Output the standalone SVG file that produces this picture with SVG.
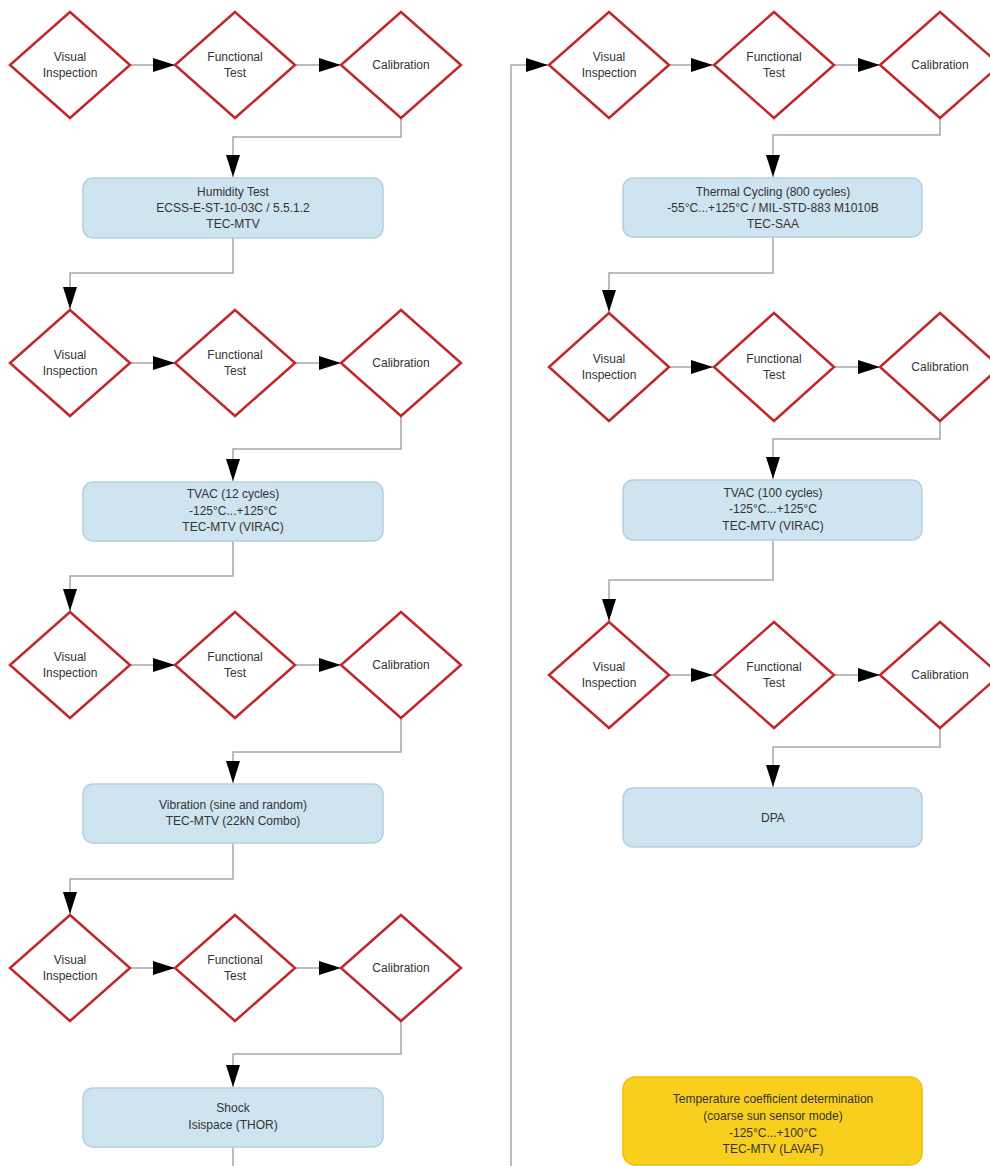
<svg xmlns="http://www.w3.org/2000/svg" width="990" height="1166" viewBox="0 0 990 1166">
<style>
  .dia { fill: #ffffff; stroke: #c1272d; stroke-width: 2.5; stroke-linejoin: miter; }
  .box { fill: #cfe4f1; stroke: #b3cfe1; stroke-width: 1.5; }
  .ybox { fill: #f9cf1e; stroke: #efc000; stroke-width: 1.5; }
  .t { font-family: "Liberation Sans", Arial, sans-serif; font-size: 12px; fill: #333333; text-anchor: middle; }
  .con { fill: none; stroke: #a6a6a6; stroke-width: 1.5; }
</style>
<defs>
  <marker id="arr" markerWidth="22" markerHeight="14" refX="22" refY="7" orient="auto" markerUnits="userSpaceOnUse">
    <path d="M0,0 L22,7 L0,14 z" fill="#000000"/>
  </marker>
</defs>
<rect width="990" height="1166" fill="#ffffff"/>

<g id="connectors">
  <!-- left column -->
  <path class="con" d="M130,65 H175" marker-end="url(#arr)"/>
  <path class="con" d="M295,65 H341" marker-end="url(#arr)"/>
  <path class="con" d="M401,118 V137 H233 V177" marker-end="url(#arr)"/>
  <path class="con" d="M233,238 V273 H70 V309" marker-end="url(#arr)"/>
  <path class="con" d="M130,363 H175" marker-end="url(#arr)"/>
  <path class="con" d="M295,363 H341" marker-end="url(#arr)"/>
  <path class="con" d="M401,416 V449 H233 V481" marker-end="url(#arr)"/>
  <path class="con" d="M233,541 V576 H70 V611" marker-end="url(#arr)"/>
  <path class="con" d="M130,665 H175" marker-end="url(#arr)"/>
  <path class="con" d="M295,665 H341" marker-end="url(#arr)"/>
  <path class="con" d="M401,718 V752 H233 V783" marker-end="url(#arr)"/>
  <path class="con" d="M233,843 V879 H70 V914" marker-end="url(#arr)"/>
  <path class="con" d="M130,968 H175" marker-end="url(#arr)"/>
  <path class="con" d="M295,968 H341" marker-end="url(#arr)"/>
  <path class="con" d="M401,1021 V1054 H233 V1087" marker-end="url(#arr)"/>
  <path class="con" d="M233,1147 V1166"/>
  <!-- right column -->
  <path class="con" d="M511,1166 V65 H548" marker-end="url(#arr)"/>
  <path class="con" d="M669,65 H713" marker-end="url(#arr)"/>
  <path class="con" d="M834,65 H880" marker-end="url(#arr)"/>
  <path class="con" d="M940,118 V135 H773 V177" marker-end="url(#arr)"/>
  <path class="con" d="M773,237 V273 H609 V312" marker-end="url(#arr)"/>
  <path class="con" d="M669,367 H713" marker-end="url(#arr)"/>
  <path class="con" d="M834,367 H880" marker-end="url(#arr)"/>
  <path class="con" d="M940,421 V439 H773 V479" marker-end="url(#arr)"/>
  <path class="con" d="M773,540 V580 H609 V621" marker-end="url(#arr)"/>
  <path class="con" d="M669,675 H713" marker-end="url(#arr)"/>
  <path class="con" d="M834,675 H880" marker-end="url(#arr)"/>
  <path class="con" d="M940,728 V747 H773 V787" marker-end="url(#arr)"/>
</g>

<!-- Left column row 1 -->
<g id="vi1"><polygon class="dia" points="70,12 130,65 70,118 10,65"/><text class="t" x="70" y="61">Visual</text><text class="t" x="70" y="77">Inspection</text></g>
<g id="ft1"><polygon class="dia" points="235,12 295,65 235,118 175,65"/><text class="t" x="235" y="61">Functional</text><text class="t" x="235" y="77">Test</text></g>
<g id="cal1"><polygon class="dia" points="401,12 461,65 401,118 341,65"/><text class="t" x="401" y="69">Calibration</text></g>
<g id="humidity"><rect class="box" x="83" y="178" width="300" height="60" rx="10"/><text class="t" x="233" y="196">Humidity Test</text><text class="t" x="233" y="212">ECSS-E-ST-10-03C / 5.5.1.2</text><text class="t" x="233" y="228">TEC-MTV</text></g>

<!-- Left column row 2 -->
<g id="vi2"><polygon class="dia" points="70,310 130,363 70,416 10,363"/><text class="t" x="70" y="359">Visual</text><text class="t" x="70" y="375">Inspection</text></g>
<g id="ft2"><polygon class="dia" points="235,310 295,363 235,416 175,363"/><text class="t" x="235" y="359">Functional</text><text class="t" x="235" y="375">Test</text></g>
<g id="cal2"><polygon class="dia" points="401,310 461,363 401,416 341,363"/><text class="t" x="401" y="367">Calibration</text></g>
<g id="tvac12"><rect class="box" x="83" y="482" width="300" height="59" rx="10"/><text class="t" x="233" y="498">TVAC (12 cycles)</text><text class="t" x="233" y="515">-125°C...+125°C</text><text class="t" x="233" y="531">TEC-MTV (VIRAC)</text></g>

<!-- Left column row 3 -->
<g id="vi3"><polygon class="dia" points="70,612 130,665 70,718 10,665"/><text class="t" x="70" y="661">Visual</text><text class="t" x="70" y="677">Inspection</text></g>
<g id="ft3"><polygon class="dia" points="235,612 295,665 235,718 175,665"/><text class="t" x="235" y="661">Functional</text><text class="t" x="235" y="677">Test</text></g>
<g id="cal3"><polygon class="dia" points="401,612 461,665 401,718 341,665"/><text class="t" x="401" y="669">Calibration</text></g>
<g id="vibration"><rect class="box" x="83" y="784" width="300" height="59" rx="10"/><text class="t" x="233" y="809">Vibration (sine and random)</text><text class="t" x="233" y="825">TEC-MTV (22kN Combo)</text></g>

<!-- Left column row 4 -->
<g id="vi4"><polygon class="dia" points="70,915 130,968 70,1021 10,968"/><text class="t" x="70" y="964">Visual</text><text class="t" x="70" y="980">Inspection</text></g>
<g id="ft4"><polygon class="dia" points="235,915 295,968 235,1021 175,968"/><text class="t" x="235" y="964">Functional</text><text class="t" x="235" y="980">Test</text></g>
<g id="cal4"><polygon class="dia" points="401,915 461,968 401,1021 341,968"/><text class="t" x="401" y="972">Calibration</text></g>
<g id="shock"><rect class="box" x="83" y="1088" width="300" height="59" rx="10"/><text class="t" x="233" y="1112">Shock</text><text class="t" x="233" y="1129">Isispace (THOR)</text></g>

<!-- Right column row 1 -->
<g id="rvi1"><polygon class="dia" points="609,12 669,65 609,118 549,65"/><text class="t" x="609" y="61">Visual</text><text class="t" x="609" y="77">Inspection</text></g>
<g id="rft1"><polygon class="dia" points="774,12 834,65 774,118 714,65"/><text class="t" x="774" y="61">Functional</text><text class="t" x="774" y="77">Test</text></g>
<g id="rcal1"><polygon class="dia" points="940,12 1000,65 940,118 880,65"/><text class="t" x="940" y="69">Calibration</text></g>
<g id="thermal"><rect class="box" x="623" y="178" width="299" height="59" rx="10"/><text class="t" x="773" y="196">Thermal Cycling (800 cycles)</text><text class="t" x="773" y="212">-55°C...+125°C / MIL-STD-883 M1010B</text><text class="t" x="773" y="228">TEC-SAA</text></g>

<!-- Right column row 2 -->
<g id="rvi2"><polygon class="dia" points="609,313 669,367 609,421 549,367"/><text class="t" x="609" y="363">Visual</text><text class="t" x="609" y="379">Inspection</text></g>
<g id="rft2"><polygon class="dia" points="774,313 834,367 774,421 714,367"/><text class="t" x="774" y="363">Functional</text><text class="t" x="774" y="379">Test</text></g>
<g id="rcal2"><polygon class="dia" points="940,313 1000,367 940,421 880,367"/><text class="t" x="940" y="371">Calibration</text></g>
<g id="tvac100"><rect class="box" x="623" y="480" width="299" height="60" rx="10"/><text class="t" x="773" y="497">TVAC (100 cycles)</text><text class="t" x="773" y="513">-125°C...+125°C</text><text class="t" x="773" y="530">TEC-MTV (VIRAC)</text></g>

<!-- Right column row 3 -->
<g id="rvi3"><polygon class="dia" points="609,622 669,675 609,728 549,675"/><text class="t" x="609" y="671">Visual</text><text class="t" x="609" y="687">Inspection</text></g>
<g id="rft3"><polygon class="dia" points="774,622 834,675 774,728 714,675"/><text class="t" x="774" y="671">Functional</text><text class="t" x="774" y="687">Test</text></g>
<g id="rcal3"><polygon class="dia" points="940,622 1000,675 940,728 880,675"/><text class="t" x="940" y="679">Calibration</text></g>
<g id="dpa"><rect class="box" x="623" y="788" width="299" height="59" rx="10"/><text class="t" x="773" y="822">DPA</text></g>

<!-- Yellow box -->
<g id="tempcoef"><rect class="ybox" x="623" y="1077" width="299" height="88" rx="12"/><text class="t" x="773" y="1103">Temperature coefficient determination</text><text class="t" x="773" y="1120">(coarse sun sensor mode)</text><text class="t" x="773" y="1137">-125°C...+100°C</text><text class="t" x="773" y="1153">TEC-MTV (LAVAF)</text></g>
</svg>
